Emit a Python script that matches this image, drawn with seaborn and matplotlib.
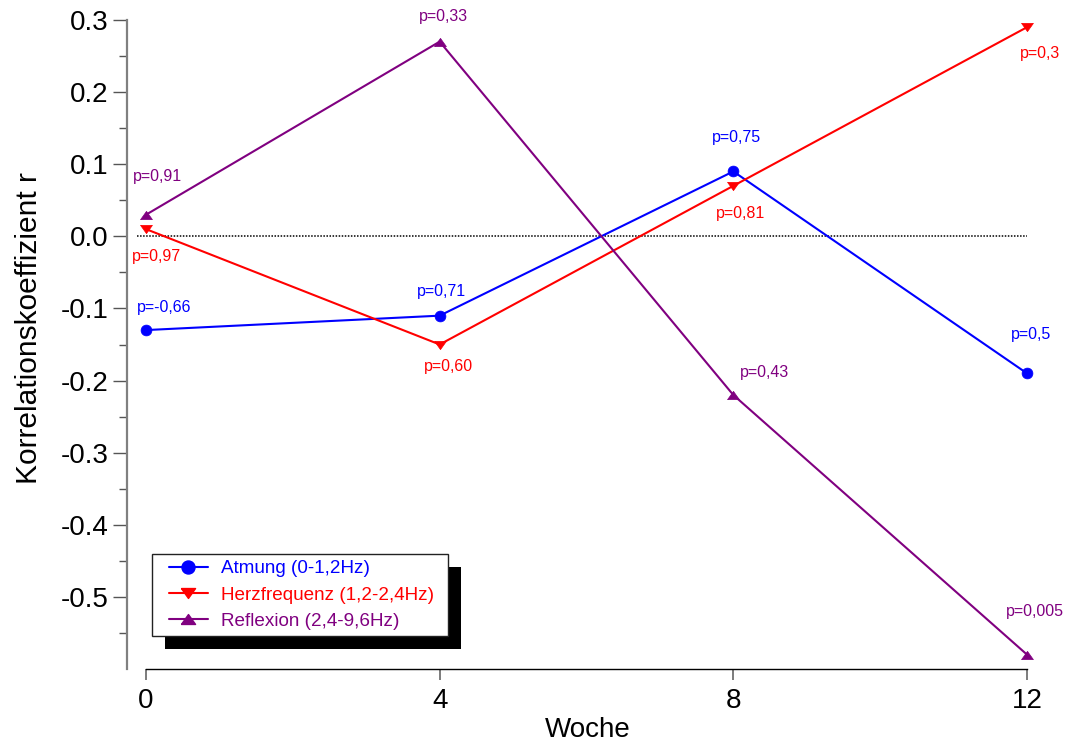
import matplotlib
matplotlib.use("Agg")
import matplotlib.pyplot as plt
import pandas as pd
import seaborn as sns
from matplotlib.lines import Line2D
from matplotlib.patches import Rectangle
from matplotlib.transforms import IdentityTransform
from matplotlib.ticker import FixedLocator, FormatStrFormatter

# Correlation coefficients per week for the three frequency bands
weeks = [0, 4, 8, 12]
series_names = ["Atmung (0-1,2Hz)", "Herzfrequenz (1,2-2,4Hz)", "Reflexion (2,4-9,6Hz)"]
atmung_r = [-0.13, -0.11, 0.09, -0.19]
herz_r = [0.01, -0.15, 0.07, 0.29]
reflexion_r = [0.03, 0.27, -0.22, -0.58]

# p-value labels next to each point
atmung_p = ["p=-0,66", "p=0,71", "p=0,75", "p=0,5"]
herz_p = ["p=0,97", "p=0,60", "p=0,81", "p=0,3"]
reflexion_p = ["p=0,91", "p=0,33", "p=0,43", "p=0,005"]

y_major = [-0.5, -0.4, -0.3, -0.2, -0.1, 0.0, 0.1, 0.2, 0.3]
y_minor = [-0.55, -0.45, -0.35, -0.25, -0.15, -0.05, 0.05, 0.15, 0.25]

sns.set_style("white")
plt.rcParams["font.family"] = ["Liberation Sans", "DejaVu Sans"]
plt.rcParams["axes.unicode_minus"] = False
plt.rcParams["text.color"] = "black"
plt.rcParams["axes.labelcolor"] = "black"
plt.rcParams["xtick.color"] = "black"
plt.rcParams["ytick.color"] = "black"

colors = ["#0000ff", "#ff0000", "#800080"]
tri_up = [(-1, -0.7), (1, -0.7), (0, 0.7), (-1, -0.7)]
tri_down = [(-1, 0.7), (1, 0.7), (0, -0.7), (-1, 0.7)]
markers = ["o", tri_down, tri_up]
marker_sizes = [7.8, 8.5, 8.5]

df = pd.DataFrame({
    "Woche": weeks * 3,
    "r": atmung_r + herz_r + reflexion_r,
    "Serie": sum([[n] * len(weeks) for n in series_names], []),
})

fig = plt.figure(figsize=(10.69, 7.52), dpi=100)
fig.patch.set_facecolor("white")
ax = fig.add_axes([127 / 1069, (752 - 669) / 752, 922 / 1069, 649 / 752])
ax.patch.set_visible(False)

# zero reference line
ax.hlines(0, -0.12, 12, colors="black", linestyles=(0, (1, 1)), linewidth=1.1, zorder=1)

for name, col, mk, ms in zip(series_names, colors, markers, marker_sizes):
    sub = df[df["Serie"] == name]
    sns.lineplot(data=sub, x="Woche", y="r", ax=ax, color=col, marker=mk,
                 markersize=ms, markeredgecolor=col, markerfacecolor=col,
                 markeredgewidth=0.5, linewidth=1.5, legend=False, zorder=3)

# p-value annotations, offsets in pixels from each point
p_offsets = {
    0: [(18, 23), (2, 24), (3, 34), (4, 39)],
    1: [(10, -27), (9, -22), (7, -28), (13, -26)],
    2: [(11, 38), (4, 25), (31, 22), (8, 43)],
}
for i, (vals, labels) in enumerate(zip([atmung_r, herz_r, reflexion_r],
                                      [atmung_p, herz_p, reflexion_p])):
    for j, (w, v, lab) in enumerate(zip(weeks, vals, labels)):
        ax.annotate(lab, xy=(w, v), xytext=p_offsets[i][j], textcoords="offset pixels",
                    ha="center", va="center", fontsize=11.5, color=colors[i],
                    annotation_clip=False)

ax.set_xlim(-0.259, 12.3)
ax.set_ylim(-0.6, 0.3)

ax.set_xticks(weeks)
ax.set_xticklabels([str(w) for w in weeks])
ax.yaxis.set_major_locator(FixedLocator(y_major))
ax.yaxis.set_minor_locator(FixedLocator(y_minor))
ax.yaxis.set_major_formatter(FormatStrFormatter("%.1f"))

for s in ["top", "right"]:
    ax.spines[s].set_visible(False)
ax.spines["left"].set_bounds(-0.6, 0.3)
ax.spines["left"].set_color("#808080")
ax.spines["left"].set_linewidth(1.6)
ax.spines["bottom"].set_bounds(0, 12)
ax.spines["bottom"].set_color("black")
ax.spines["bottom"].set_linewidth(1.0)

ax.tick_params(axis="y", which="major", direction="out", length=10, width=1,
               color="#555555", labelcolor="black", labelsize=20, pad=3.5, left=True)
ax.tick_params(axis="y", which="minor", direction="out", length=5.8, width=1,
               color="#555555", left=True)
ax.tick_params(axis="x", which="major", direction="out", length=8, width=1.2,
               color="#666666", labelcolor="black", labelsize=20, pad=6, bottom=True)

ax.set_xlabel("Woche", fontsize=20, labelpad=2, color="black")
ax.set_ylabel("Korrelationskoeffizient r", fontsize=21.5, color="black")
ax.yaxis.set_label_coords(-0.091, 0.525)

handles = [Line2D([0], [0], color=c, marker=m, markersize=s * 1.2, linewidth=1.5,
                  markeredgecolor=c, markerfacecolor=c)
           for c, m, s in zip(colors, markers, marker_sizes)]
leg = ax.legend(handles, series_names, loc="upper left",
                bbox_to_anchor=(169 / 1069, 1 - 560 / 752), bbox_transform=fig.transFigure,
                borderaxespad=0, borderpad=0, fontsize=13.6, frameon=False,
                handlelength=2.05, handletextpad=0.68, labelspacing=0.48)
for t, c in zip(leg.get_texts(), colors):
    t.set_color(c)
leg.set_zorder(7)

# white legend box with a solid drop shadow, sized around the legend content
fig.canvas.draw()
bb = leg.get_window_extent()
pad_l, pad_r, pad_v = 17, 14, 6
fx0, fy0 = bb.x0 - pad_l, bb.y0 - pad_v
fw, fh = bb.width + pad_l + pad_r, bb.height + 2 * pad_v
shadow = Rectangle((fx0 + 13, fy0 - 13), fw, fh, transform=IdentityTransform(),
                   facecolor="black", edgecolor="none", zorder=5, clip_on=False)
frame = Rectangle((fx0, fy0), fw, fh, transform=IdentityTransform(),
                  facecolor="white", edgecolor="#222222", linewidth=1.0,
                  zorder=6, clip_on=False)
ax.add_artist(shadow)
ax.add_artist(frame)

fig.savefig("out.png", dpi=100, facecolor="white")
